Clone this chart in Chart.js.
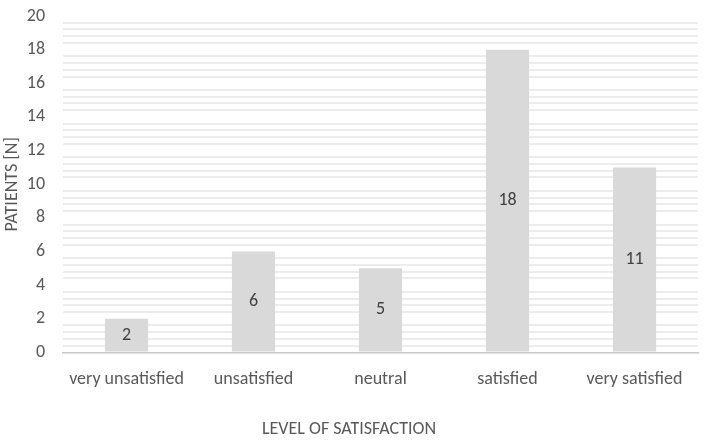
<!DOCTYPE html>
<html>
<head>
<meta charset="utf-8">
<script src="https://cdn.jsdelivr.net/npm/chart.js@4/dist/chart.umd.min.js"></script>
<style>
  html, body { margin: 0; padding: 0; background: #fff; }
  #wrap { width: 705px; height: 440px; position: relative; }
</style>
</head>
<body>
<div id="wrap"><canvas id="chart"></canvas></div>
<script>
// datos
var categories = ['very unsatisfied', 'unsatisfied', 'neutral', 'satisfied', 'very satisfied'];
var patients = [2, 6, 5, 18, 11];
var yMin = 0;
var yMax = 20;
var yLabelStep = 2;   // etiquetas cada 2
var yGridStep = 0.4;  // lineas finas cada 0.4

var fontFamily = 'Carlito, Calibri, Lato, sans-serif';
var textColor = '#595959';

function isLabelValue(v) {
    var r = v / yLabelStep;
    return Math.abs(r - Math.round(r)) < 1e-6;
}

// plugin para escribir el valor en el centro de cada barra
var barValues = {
    id: 'barValues',
    afterDatasetsDraw: function (chart) {
        var ctx = chart.ctx;
        var meta = chart.getDatasetMeta(0);
        ctx.save();
        ctx.font = '18px ' + fontFamily;
        ctx.fillStyle = '#404040';
        ctx.textAlign = 'center';
        ctx.textBaseline = 'middle';
        meta.data.forEach(function (bar, i) {
            var mid = (bar.y + bar.base) / 2;
            ctx.fillText(String(patients[i]), bar.x, mid);
        });
        ctx.restore();
    }
};

new Chart(document.getElementById('chart'), {
    type: 'bar',
    data: {
        labels: categories,
        datasets: [{
            label: 'PATIENTS [N]',
            data: patients,
            backgroundColor: '#d9d9d9',
            borderWidth: 0,
            categoryPercentage: 1,
            barPercentage: 0.34
        }]
    },
    options: {
        responsive: true,
        maintainAspectRatio: false,
        animation: false,
        layout: { padding: { top: 16, right: 7, left: 0, bottom: 0 } },
        plugins: {
            legend: { display: false },
            tooltip: { enabled: false },
            title: {
                display: true,
                position: 'bottom',
                text: 'LEVEL OF SATISFACTION',
                color: textColor,
                font: { family: fontFamily, size: 18, weight: 'normal' },
                padding: { top: 25, bottom: 0 }
            }
        },
        scales: {
            x: {
                grid: { display: false, drawTicks: false },
                border: { display: true, color: '#c8c8c8', width: 1.5 },
                ticks: {
                    color: textColor,
                    padding: 16,
                    font: { family: fontFamily, size: 18 }
                },
                afterFit: function (s) {
                    s.height = 41;
                    s.paddingLeft = 0;
                    s.paddingRight = 0;
                }
            },
            y: {
                min: yMin,
                max: yMax,
                border: { display: false },
                grid: {
                    drawTicks: false,
                    lineWidth: 2,
                    color: function (c) {
                        var v = c.tick ? c.tick.value : 0;
                        if (isLabelValue(v)) return 'rgba(0,0,0,0)';
                        return '#ececec';
                    }
                },
                ticks: {
                    stepSize: yGridStep,
                    autoSkip: false,
                    color: textColor,
                    padding: 18,
                    font: { family: fontFamily, size: 18 },
                    callback: function (v) {
                        return isLabelValue(v) ? String(Math.round(v)) : '';
                    }
                },
                title: {
                    display: true,
                    text: 'PATIENTS [N]',
                    color: textColor,
                    font: { family: fontFamily, size: 18 },
                    padding: { top: 2, bottom: 0 }
                },
                afterFit: function (s) {
                    s.width = 63;
                    s.paddingTop = 0;
                    s.paddingBottom = 0;
                }
            }
        }
    },
    plugins: [barValues]
});
</script>
</body>
</html>
